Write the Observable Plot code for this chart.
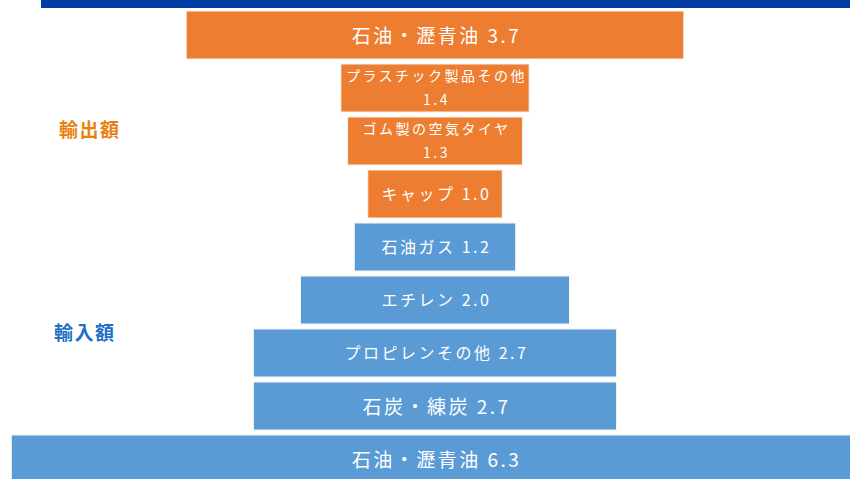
<!DOCTYPE html>
<html>
<head>
<meta charset="utf-8">
<script src="https://cdn.jsdelivr.net/npm/d3@7"></script>
<script src="https://cdn.jsdelivr.net/npm/@observablehq/plot@0.6"></script>
<style>
  html, body { margin: 0; padding: 0; background: #fff; overflow: hidden; }
  #wrap { position: relative; width: 850px; height: 479px; overflow: hidden; }
  #topbar { position: absolute; left: 41px; top: 0; width: 809px; height: 8px; background: #003DA5; }
  .side { position: absolute; font-family: "Noto Sans CJK JP", sans-serif; font-weight: bold; font-size: 19px; letter-spacing: 1.5px; line-height: 1; }
  #exp { left: 59px; top: 119px; color: #E8800F; }
  #imp { left: 54px; top: 322px; color: #1C6FC4; }
  #chart { position: absolute; left: 0; top: 0; }
  .lbl text, text.lbl { letter-spacing: 2.5px; }
</style>
</head>
<body>
<div id="wrap">
  <div id="chart"></div>
  <div id="topbar"></div>
  <div class="side" id="exp">輸出額</div>
  <div class="side" id="imp">輸入額</div>
</div>
<script>
const items = ["石油・瀝青油", "プラスチック製品その他", "ゴム製の空気タイヤ", "キャップ", "石油ガス", "エチレン", "プロピレンその他", "石炭・練炭", "石油・瀝青油"];
const groups = ["輸出額", "輸出額", "輸出額", "輸出額", "輸入額", "輸入額", "輸入額", "輸入額", "輸入額"];
const values = [3.7, 1.4, 1.3, 1.0, 1.2, 2.0, 2.7, 2.7, 6.3];

const data = items.map((name, i) => ({id: i, name, group: groups[i], value: values[i]}));
const twoLine = new Set([1, 2]);
const bigText = new Set([0, 7, 8]);
const label = d => twoLine.has(d.id) ? `${d.name}\n${d.value.toFixed(1)}` : `${d.name} ${d.value.toFixed(1)}`;
const size = d => bigText.has(d.id) ? 19 : twoLine.has(d.id) ? 14 : 16;

const chart = Plot.plot({
  width: 850,
  height: 479,
  margin: 0,
  style: {background: "transparent", overflow: "hidden"},
  x: {domain: [-435 / 134.5, 415 / 134.5], axis: null},
  y: {domain: data.map(d => d.id), range: [10, 483], paddingInner: 0.095, paddingOuter: 0, axis: null},
  color: {domain: ["輸出額", "輸入額"], range: ["#ED7D31", "#5B9BD5"]},
  marks: [
    Plot.barX(data, {y: "id", x1: d => -d.value / 2, x2: d => d.value / 2, fill: "group", stroke: "#F4F4F4", strokeWidth: 1}),
    Plot.text(data, {
      y: "id", x: () => 0, text: label, fill: "white",
      fontSize: size, lineHeight: 1.7, dy: -3, dx: 1,
      fontFamily: "'Noto Sans CJK JP', sans-serif",
      className: "lbl"
    })
  ]
});
document.getElementById("chart").appendChild(chart);
</script>
</body>
</html>
